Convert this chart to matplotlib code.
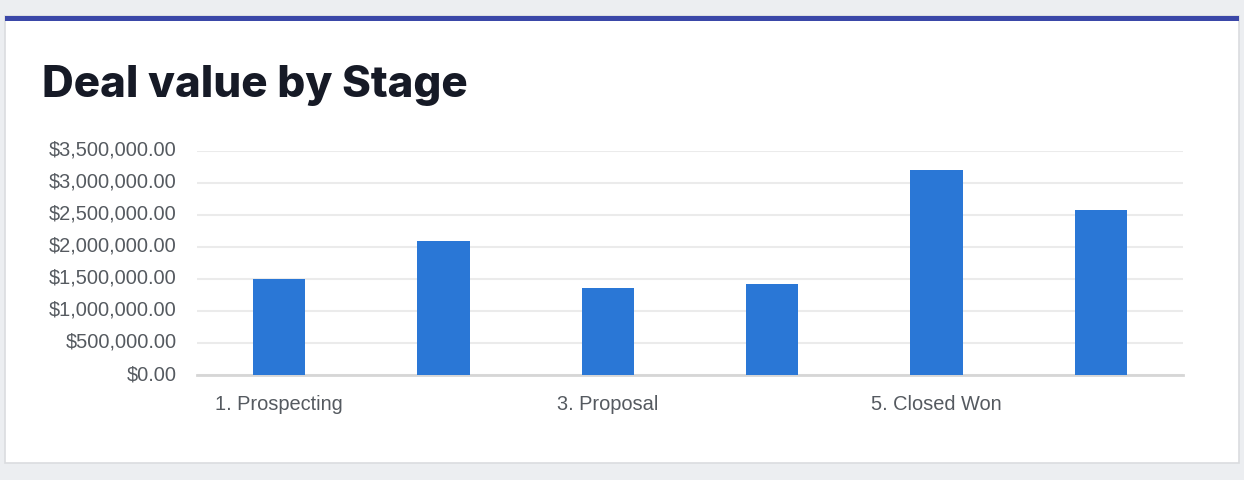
import matplotlib
matplotlib.use("Agg")
import matplotlib.pyplot as plt
from matplotlib.patches import Rectangle
from matplotlib.ticker import FuncFormatter, MultipleLocator
from matplotlib.transforms import ScaledTranslation

stages = ["1. Prospecting", "2. Qualification", "3. Proposal",
          "4. Negotiation", "5. Closed Won", "6. Closed Lost"]
deal_values = [1500000, 2100000, 1355000, 1420000, 3210000, 2580000]
shown_labels = ["1. Prospecting", "", "3. Proposal", "", "5. Closed Won", ""]

W, H = 1244, 480
fig = plt.figure(figsize=(W / 100, H / 100), dpi=100)
fig.patch.set_facecolor("#eceef1")

# card
fig.add_artist(Rectangle((5 / W, (H - 463) / H), 1234 / W, 447 / H,
                         transform=fig.transFigure, facecolor="white",
                         edgecolor="#dadcdf", linewidth=1.2, zorder=0))
fig.add_artist(Rectangle((5 / W, (H - 21) / H), 1234 / W, 5 / H,
                         transform=fig.transFigure, facecolor="#3a47a8",
                         edgecolor="none", zorder=1))

fig.text(42 / W, (H - 97) / H, "Deal value by Stage", fontsize=31.6,
         fontweight="heavy", family=["Inter", "DejaVu Sans"], color="#161a26",
         va="baseline", ha="left")

ax = fig.add_axes([197 / W, (H - 375) / H, 986 / W, 224 / H])
ax.set_facecolor("none")
x = list(range(len(stages)))
ax.bar(x, deal_values, width=0.317, color="#2a77d6", zorder=3)
ax.set_xlim(-0.5, len(stages) - 0.5)
ax.set_ylim(0, 3500000)
ax.yaxis.set_major_locator(MultipleLocator(500000))
ax.yaxis.set_major_formatter(FuncFormatter(lambda v, p: f"${v:,.2f}"))
ax.set_xticks(x)
ax.set_xticklabels(shown_labels)
ax.grid(axis="y", color="#ebebeb", linewidth=1.5, zorder=0)
ax.set_axisbelow(True)
for s in ["top", "right", "left"]:
    ax.spines[s].set_visible(False)
ax.spines["bottom"].set_color("#d6d6d6")
ax.spines["bottom"].set_linewidth(2)
ax.tick_params(axis="both", length=0, labelsize=14.4, colors="#555a60")
ax.tick_params(axis="y", pad=14.5)
ax.tick_params(axis="x", pad=14.5)
for lab in ax.get_xticklabels() + ax.get_yticklabels():
    lab.set_family(["Liberation Sans", "DejaVu Sans"])
shift = ScaledTranslation(0, 2.5 / 100, fig.dpi_scale_trans)
for lab in ax.get_yticklabels():
    lab.set_transform(lab.get_transform() + shift)

fig.savefig("out.png", dpi=100, facecolor=fig.get_facecolor())
